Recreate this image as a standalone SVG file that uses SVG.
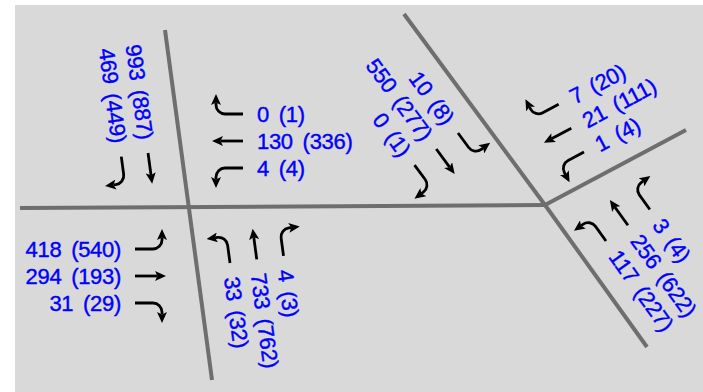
<svg xmlns="http://www.w3.org/2000/svg" width="703" height="392" viewBox="0 0 703 392">
<defs>
<marker id="ah" viewBox="0 0 11 10" refX="2.5" refY="5" markerWidth="11" markerHeight="10" markerUnits="userSpaceOnUse" orient="auto"><path d="M0,0 L11,5 L0,10 L2.5,5 z" fill="#000"/></marker>
<style>
.road{stroke:#6e6e6e;stroke-width:4;fill:none}
.arr{stroke:#000;stroke-width:2.8;fill:none;marker-end:url(#ah)}
.lbl{font-family:"Liberation Sans",Arial,sans-serif;font-size:22px;fill:#0000ff;stroke:#0000ff;stroke-width:0.4;letter-spacing:-0.3px;word-spacing:4px}
.e{text-anchor:end}
.s{text-anchor:start}
</style>
</defs>
<rect x="15" y="5" width="688" height="387" fill="#d9d9d9"/>
<g id="roads">
<line class="road" x1="20" y1="208" x2="545" y2="205"/>
<line class="road" x1="165" y1="30" x2="212" y2="380"/>
<line class="road" x1="404" y1="14" x2="545" y2="205"/>
<line class="road" x1="545" y1="205" x2="647" y2="347"/>
<line class="road" x1="545" y1="205" x2="686" y2="130"/>
</g>
<g id="west" transform="translate(135,249)">
<path class="arr" d="M0,0 H18 A9,9 0 0 0 27,-9 V-11.5"/>
<path class="arr" d="M0,27 H22.5"/>
<path class="arr" d="M0,54 H18 A9,9 0 0 1 27,63 V65.5"/>
<text class="lbl e" x="-14" y="0" dy="8">418 (540)</text>
<text class="lbl e" x="-14" y="27" dy="8">294 (193)</text>
<text class="lbl e" x="-14" y="54" dy="8">31 (29)</text>
</g>
<g id="east" transform="translate(243,168) rotate(180)">
<path class="arr" d="M0,0 H18 A9,9 0 0 0 27,-9 V-11.5"/>
<path class="arr" d="M0,27 H22.5"/>
<path class="arr" d="M0,54 H18 A9,9 0 0 1 27,63 V65.5"/>
<text class="lbl s" transform="translate(-14,0) rotate(180)" dy="8">4 (4)</text>
<text class="lbl s" transform="translate(-14,27) rotate(180)" dy="8">130 (336)</text>
<text class="lbl s" transform="translate(-14,54) rotate(180)" dy="8">0 (1)</text>
</g>
<g id="north" transform="translate(174.8,149.4) rotate(82.35)">
<path class="arr" d="M0,27 H22.5"/>
<path class="arr" d="M0,54 H18 A9,9 0 0 1 27,63 V65.5"/>
<text class="lbl e" x="-14" y="27" dy="8">993 (887)</text>
<text class="lbl e" x="-14" y="54" dy="8">469 (449)</text>
</g>
<g id="south" transform="translate(230,263) rotate(-97.65)">
<path class="arr" d="M0,0 H18 A9,9 0 0 0 27,-9 V-11.5"/>
<path class="arr" d="M0,27 H22.5"/>
<path class="arr" d="M0,54 H18 A9,9 0 0 1 27,63 V65.5"/>
<text class="lbl s" transform="translate(-14,0) rotate(180)" dy="8">33 (32)</text>
<text class="lbl s" transform="translate(-14,27) rotate(180)" dy="8">733 (762)</text>
<text class="lbl s" transform="translate(-14,54) rotate(180)" dy="8">4 (3)</text>
</g>
<g id="northeast" transform="translate(458,133) rotate(53.6)">
<path class="arr" d="M0,0 H18 A9,9 0 0 0 27,-9 V-11.5"/>
<path class="arr" d="M0,27 H22.5"/>
<path class="arr" d="M0,54 H18 A9,9 0 0 1 27,63 V65.5"/>
<text class="lbl e" x="-14" y="0" dy="8">10 (8)</text>
<text class="lbl e" x="-14" y="27" dy="8">550 (277)</text>
<text class="lbl e" x="-14" y="54" dy="8">0 (1)</text>
</g>
<g id="eastnortheast" transform="translate(584,152) rotate(152)">
<path class="arr" d="M0,0 H18 A9,9 0 0 0 27,-9 V-11.5"/>
<path class="arr" d="M0,27 H22.5"/>
<path class="arr" d="M0,54 H18 A9,9 0 0 1 27,63 V65.5"/>
<text class="lbl s" transform="translate(-14,0) rotate(180)" dy="8">1 (4)</text>
<text class="lbl s" transform="translate(-14,27) rotate(180)" dy="8">21 (111)</text>
<text class="lbl s" transform="translate(-14,54) rotate(180)" dy="8">7 (20)</text>
</g>
<g id="southeast" transform="translate(606,241) rotate(-125.7)">
<path class="arr" d="M0,0 H18 A9,9 0 0 0 27,-9 V-11.5"/>
<path class="arr" d="M0,27 H22.5"/>
<path class="arr" d="M0,54 H18 A9,9 0 0 1 27,63 V65.5"/>
<text class="lbl s" transform="translate(-14,0) rotate(180)" dy="8">117 (227)</text>
<text class="lbl s" transform="translate(-14,27) rotate(180)" dy="8">256 (622)</text>
<text class="lbl s" transform="translate(-14,54) rotate(180)" dy="8">3 (4)</text>
</g>
</svg>
